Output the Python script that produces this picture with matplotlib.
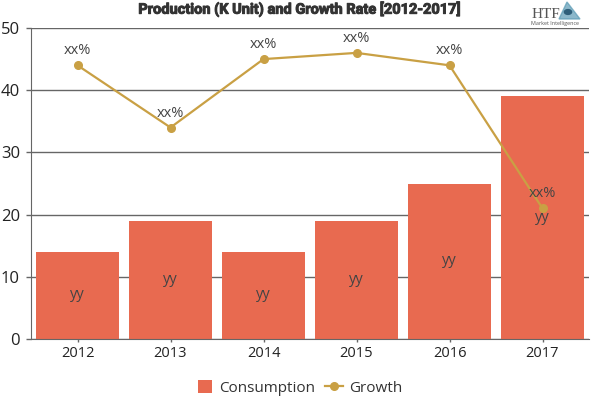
import matplotlib
matplotlib.use("Agg")
import matplotlib.pyplot as plt
import matplotlib.patheffects as pe
from matplotlib.patches import Circle, Polygon

years = ["2012", "2013", "2014", "2015", "2016", "2017"]
consumption = [14, 19, 14, 19, 25, 39]
growth = [44, 34, 45, 46, 44, 21]
bar_labels = ["yy", "yy", "yy", "yy", "yy", "yy"]
growth_labels = ["xx%", "xx%", "xx%", "xx%", "xx%", "xx%"]

bar_color = "#E86A50"
line_color = "#C9A044"
text_color = "#333333"

plt.rcParams["font.family"] = ["Open Sans", "DejaVu Sans"]

fig = plt.figure(figsize=(6, 4), dpi=100)
ax = fig.add_axes([31 / 600, 1 - 339 / 400, 558 / 600, 311 / 400])

x = list(range(len(years)))
bars = ax.bar(x, consumption, width=0.89, color=bar_color, label="Consumption", zorder=2)
line, = ax.plot(x, growth, color=line_color, lw=1.6, marker="o", ms=5.5, label="Growth", zorder=3)

# labels sit in the middle of the bars, and just above the line points
for i in x:
    ax.text(i, consumption[i] / 2 + 0.1, bar_labels[i], ha="center", va="center",
            fontsize=10.5, color="#444444", zorder=4)
    ax.annotate(growth_labels[i], (i, growth[i]), xytext=(0, 5), textcoords="offset points",
                ha="center", va="bottom", fontsize=10.5, color="#444444", zorder=4)

ax.set_xlim(-0.5, 5.5)
ax.set_ylim(0, 50)
ax.set_yticks([0, 10, 20, 30, 40, 50])
ax.set_xticks(x)
ax.set_xticklabels(years)
ax.tick_params(axis="y", length=3.6, width=1, color="#666666", labelsize=12, labelcolor="#222222", pad=4.4)
ax.tick_params(axis="x", length=2.2, width=1, color="#666666", labelsize=10.5, labelcolor="#222222", pad=3)
ax.grid(axis="y", color="#666666", lw=1, zorder=1)
ax.set_axisbelow(True)
for s in ["top", "right"]:
    ax.spines[s].set_visible(False)
for s in ["left", "bottom"]:
    ax.spines[s].set_color("#666666")

title = fig.text(300 / 600, 1 - 9 / 400, "Production (K Unit) and Growth Rate [2012-2017]", ha="center", va="center",
                 fontsize=10.5, fontweight="bold", family=["Roboto"], color="#333333")
title.set_path_effects([pe.withStroke(linewidth=0.7, foreground="#333333")])

# two legends so the square and the line key can have different widths
leg_bar = fig.legend(handles=[bars], loc="center left", bbox_to_anchor=(198 / 600, 1 - 388 / 400),
                     frameon=False, fontsize=11, handlelength=0.92, handleheight=0.92, borderpad=0,
                     borderaxespad=0, handletextpad=0.45, labelcolor=text_color)
leg_line = fig.legend(handles=[line], loc="center left", bbox_to_anchor=(325 / 600, 1 - 388 / 400),
                      frameon=False, fontsize=11, handlelength=1.2, borderpad=0,
                      borderaxespad=0, handletextpad=0.35, labelcolor=text_color)

# logo, top right corner
fig.text(532 / 600, 1 - 14 / 400, "HTF", ha="left", va="center", fontsize=11, family="Liberation Serif", color="#555555")
fig.text(531 / 600, 1 - 24 / 400, "Market Intelligence", ha="left", va="center", fontsize=3.9, color="#555555")
fig.add_artist(Polygon([[559 / 600, 1 - 19 / 400], [567 / 600, 1 - 2 / 400], [580 / 600, 1 - 19 / 400]],
                       transform=fig.transFigure, color="#5B9BB5", alpha=0.7))
fig.add_artist(Circle((568 / 600, 1 - 12 / 400), 0.006, transform=fig.transFigure, color="#2F5F7A"))

fig.savefig("out.png", dpi=100)
